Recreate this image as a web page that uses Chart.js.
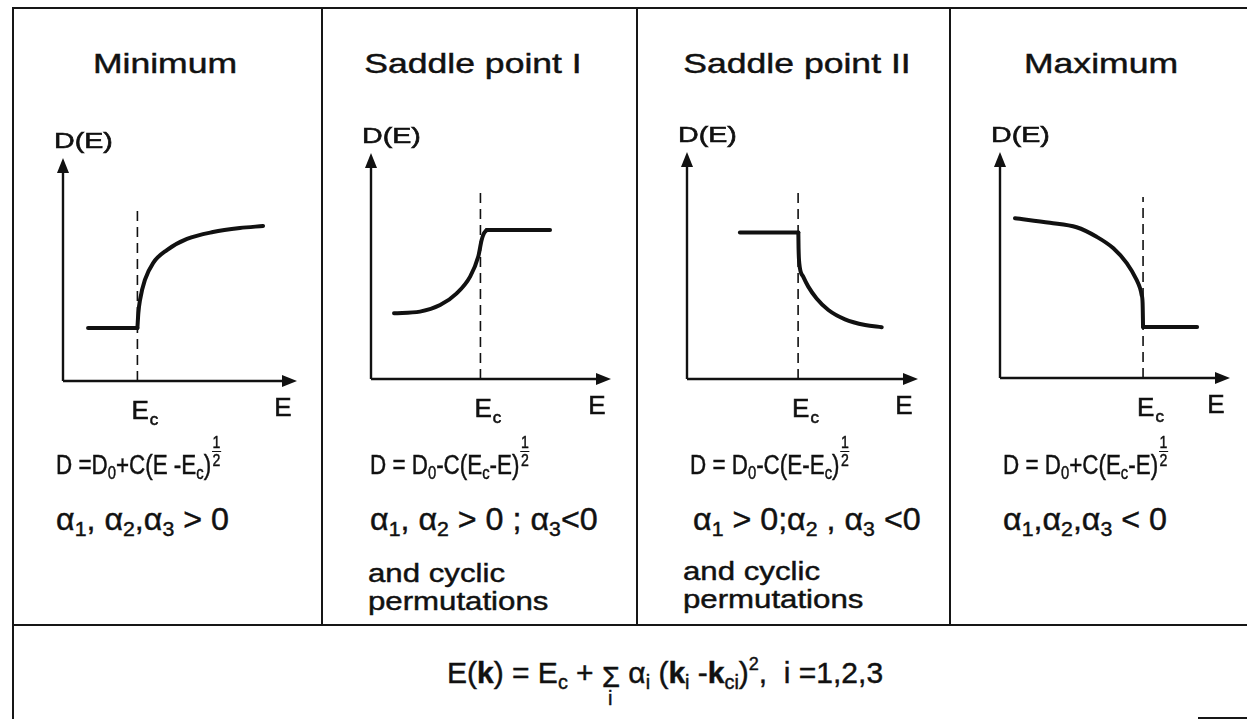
<!DOCTYPE html>
<html>
<head>
<meta charset="utf-8">
<title>Critical points and D(E)</title>
<script src="https://cdn.jsdelivr.net/npm/chart.js@4.4.1/dist/chart.umd.min.js"></script>
<style>
  html, body { margin: 0; padding: 0; background: #fff; }
  #fig { position: relative; width: 1247px; height: 719px; overflow: hidden; background: #fff; color: #111;
         font-family: "Liberation Sans", Arial, Helvetica, sans-serif; }
  .rule { position: absolute; background: #161616; }
  canvas { position: absolute; }
  .t { position: absolute; white-space: nowrap; line-height: 1; -webkit-text-stroke: 0.45px #111; }
  .title { font-size: 28px; transform: translateX(-50%) scaleX(1.27); }
  .eq { font-size: 27px; transform: scaleX(0.83); transform-origin: 0 0; }
  .al { font-size: 31px; transform: scaleX(1.04); transform-origin: 0 0; }
  .wd { font-size: 26px; transform: scaleX(1.2); transform-origin: 0 0; }
  .bot { font-size: 30px; transform: scaleX(1.0); transform-origin: 0 0; }
  .s { font-size: 0.66em; vertical-align: -0.28em; line-height: 0; }
  .frac { display: inline-block; position: relative; width: 12px; height: 0; }
  .frac .fi { position: absolute; left: 1px; bottom: 5px; width: 11px; font-size: 17px; line-height: 17px; text-align: center; }
  .frac .fi span { display: block; }
  .frac .fi span + span { border-top: 1px solid #111; }
  .sum { position: relative; display: inline-block; width: 18px; height: 0; }
  .sum .g { position: absolute; left: 0; bottom: -9px; font-size: 44px; line-height: 44px;
            transform: scale(0.66); transform-origin: 0 100%; -webkit-text-stroke: 0.7px #111; }
  .sum .u { position: absolute; left: 6px; top: 5px; font-size: 20px; line-height: 20px; }
  .sup { font-size: 0.6em; vertical-align: 0.75em; line-height: 0; }
</style>
</head>
<body>
<div id="fig">
  <!-- frame of the table -->
  <div class="rule" style="left:13px; top:7px; width:1234px; height:2px;"></div>
  <div class="rule" style="left:12px; top:7px; width:2px; height:712px;"></div>
  <div class="rule" style="left:321px; top:7px; width:2px; height:619px;"></div>
  <div class="rule" style="left:636px; top:7px; width:2px; height:619px;"></div>
  <div class="rule" style="left:949px; top:7px; width:2px; height:619px;"></div>
  <div class="rule" style="left:13px; top:624px; width:1234px; height:2px;"></div>
  <div class="rule" style="left:1198px; top:717px; width:49px; height:2px;"></div>

  <canvas id="c0" width="305" height="350" style="left:15px; top:90px;"></canvas>
  <canvas id="c1" width="311" height="350" style="left:324px; top:90px;"></canvas>
  <canvas id="c2" width="309" height="350" style="left:639px; top:90px;"></canvas>
  <canvas id="c3" width="295" height="350" style="left:952px; top:90px;"></canvas>

  <div class="t title" id="h0" style="left:165px; top:50px;"></div>
  <div class="t title" id="h1" style="left:473px; top:50px;"></div>
  <div class="t title" id="h2" style="left:797px; top:50px;"></div>
  <div class="t title" id="h3" style="left:1101px; top:50px;"></div>

  <!-- density of states near each critical point -->
  <div class="t eq" style="left:56px; top:452px;">D =D<span class="s">0</span>+C(E -E<span class="s">c</span>)<span class="frac"><span class="fi"><span>1</span><span>2</span></span></span></div>
  <div class="t eq" style="left:370px; top:452px;">D = D<span class="s">0</span>-C(E<span class="s">c</span>-E)<span class="frac"><span class="fi"><span>1</span><span>2</span></span></span></div>
  <div class="t eq" style="left:690px; top:452px;">D = D<span class="s">0</span>-C(E-E<span class="s">c</span>)<span class="frac"><span class="fi"><span>1</span><span>2</span></span></span></div>
  <div class="t eq" style="left:1003px; top:452px;">D = D<span class="s">0</span>+C(E<span class="s">c</span>-E)<span class="frac"><span class="fi"><span>1</span><span>2</span></span></span></div>

  <!-- signs of the effective-mass coefficients -->
  <div class="t al" style="left:56px; top:504px;">α<span class="s">1</span>, α<span class="s">2</span>,α<span class="s">3</span> &gt; 0</div>
  <div class="t al" style="left:370px; top:504px;">α<span class="s">1</span>, α<span class="s">2</span> &gt; 0 ; α<span class="s">3</span>&lt;0</div>
  <div class="t al" style="left:693px; top:504px;">α<span class="s">1</span> &gt; 0;α<span class="s">2</span> , α<span class="s">3</span> &lt;0</div>
  <div class="t al" style="left:1003px; top:504px;">α<span class="s">1</span>,α<span class="s">2</span>,α<span class="s">3</span> &lt; 0</div>

  <div class="t wd" style="left:368px; top:560px;">and cyclic</div>
  <div class="t wd" style="left:368px; top:588px;">permutations</div>
  <div class="t wd" style="left:683px; top:558px;">and cyclic</div>
  <div class="t wd" style="left:683px; top:586px;">permutations</div>

  <!-- band energy near a critical point -->
  <div class="t bot" style="left:447px; top:658px;">E(<b>k</b>) = E<span class="s">c</span> + <span class="sum"><span class="g">&#931;</span><span class="u">i</span></span> α<span class="s">i</span> (<b>k</b><span class="s">i</span> -<b>k</b><span class="s">ci</span>)<span class="sup">2</span>,&nbsp; i =1,2,3</div>
</div>

<script>
// Panel headings
const panelTitles = ['Minimum', 'Saddle point I', 'Saddle point II', 'Maximum'];

// Axis texts
const yAxisLabel = 'D(E)';
const xAxisLabel = 'E';
const criticalLabel = ['E', 'c'];

// Both axes run from 0 to 10 (arbitrary units)
const axisMin = 0;
const axisMax = 10;

// Critical energy E_c of each panel and the top of its dashed marker
const criticalE = [3.18, 4.56, 4.81, 6.22];
const markerTop = [7.67, 8.36, 8.24, 8.01];

// Minimum: constant below E_c, square-root rise above
const minFlatE  = [1.07, 3.18];
const minFlatD  = [2.38, 2.38];
const minCurveE = [3.18, 3.22, 3.29, 3.50, 3.85, 4.44, 5.30, 6.41, 7.56, 8.55];
const minCurveD = [2.38, 3.05, 3.63, 4.53, 5.29, 5.87, 6.37, 6.68, 6.86, 6.95];

// Saddle point I: square-root rise up to E_c, constant above
const sp1CurveE = [0.96, 2.04, 2.88, 3.57, 4.13, 4.47, 4.61, 4.71, 4.82];
const sp1CurveD = [2.91, 2.98, 3.27, 3.79, 4.53, 5.42, 6.15, 6.45, 6.59];
const sp1FlatE  = [4.82, 7.46];
const sp1FlatD  = [6.59, 6.59];

// Saddle point II: constant below E_c, square-root drop above
const sp2FlatE  = [2.29, 4.82];
const sp2FlatD  = [6.45, 6.45];
const sp2CurveE = [4.82, 4.83, 4.86, 5.03, 5.25, 5.61, 6.12, 6.84, 7.71, 8.43];
const sp2CurveD = [6.45, 5.75, 5.10, 4.51, 4.07, 3.55, 3.04, 2.63, 2.38, 2.28];

// Maximum: square-root drop up to E_c, constant above
const maxCurveE = [0.65, 2.17, 3.33, 4.20, 4.93, 5.51, 5.94, 6.09, 6.16, 6.20, 6.22];
const maxCurveD = [7.07, 6.87, 6.67, 6.25, 5.74, 5.08, 4.34, 3.97, 3.67, 3.32, 2.26];
const maxFlatE  = [6.22, 8.57];
const maxFlatD  = [2.26, 2.26];

const panelCurves = [
  { curve: [minCurveE, minCurveD], flat: [minFlatE, minFlatD] },
  { curve: [sp1CurveE, sp1CurveD], flat: [sp1FlatE, sp1FlatD] },
  { curve: [sp2CurveE, sp2CurveD], flat: [sp2FlatE, sp2FlatD] },
  { curve: [maxCurveE, maxCurveD], flat: [maxFlatE, maxFlatD] },
];

// Where each plot sits on the page: canvas box, axis origin and arrow tips
const CANVAS_TOP = 90, CANVAS_H = 350;
const frames = [
  { left: 15,  width: 305, ox: 63,   oy: 381, tx: 297,  ty: 158 },
  { left: 324, width: 311, ox: 371,  oy: 379, tx: 611,  ty: 153 },
  { left: 639, width: 309, ox: 687,  oy: 379, tx: 918,  ty: 152 },
  { left: 952, width: 295, ox: 1000, oy: 378, tx: 1230, ty: 152 },
];

const INK = '#111111';
const FONT = '"Liberation Sans", Arial, Helvetica, sans-serif';

const pts = (xs, ys) => xs.map((x, i) => ({ x, y: ys[i] }));

function heavyText(ctx, text, x, y) {
  ctx.fillText(text, x, y);
  ctx.strokeText(text, x, y);
}

// Axes with arrowheads, plus the D(E), E and E_c labels
const arrowAxes = {
  id: 'arrowAxes',
  beforeDatasetsDraw(chart, args, opts) {
    const { ctx } = chart;
    const xs = chart.scales.x, ys = chart.scales.y;
    const x0 = xs.getPixelForValue(axisMin), x1 = xs.getPixelForValue(axisMax);
    const y0 = ys.getPixelForValue(axisMin), y1 = ys.getPixelForValue(axisMax);
    const head = 15, half = 6;
    ctx.save();
    ctx.strokeStyle = INK;
    ctx.fillStyle = INK;
    ctx.lineWidth = 2.4;
    ctx.beginPath();
    ctx.moveTo(x0, y0); ctx.lineTo(x1 - head + 2, y0);
    ctx.moveTo(x0, y0); ctx.lineTo(x0, y1 + head - 2);
    ctx.stroke();
    ctx.beginPath();
    ctx.moveTo(x1, y0); ctx.lineTo(x1 - head, y0 - half); ctx.lineTo(x1 - head, y0 + half); ctx.closePath();
    ctx.fill();
    ctx.beginPath();
    ctx.moveTo(x0, y1); ctx.lineTo(x0 - half, y1 + head); ctx.lineTo(x0 + half, y1 + head); ctx.closePath();
    ctx.fill();

    ctx.textBaseline = 'alphabetic';
    ctx.lineWidth = 0.6;
    // D(E) above the vertical axis
    ctx.save();
    ctx.font = '22px ' + FONT;
    ctx.translate(x0 - 9, y1 - 10);
    ctx.scale(1.3, 1);
    ctx.textAlign = 'left';
    heavyText(ctx, yAxisLabel, 0, 0);
    ctx.restore();
    // E under the arrow of the horizontal axis
    ctx.font = '26px ' + FONT;
    ctx.textAlign = 'center';
    heavyText(ctx, xAxisLabel, x1 - 14, y0 + 35);
    // E_c under the dashed marker
    const xc = xs.getPixelForValue(opts.critical);
    ctx.textAlign = 'left';
    ctx.font = '26px ' + FONT;
    heavyText(ctx, criticalLabel[0], xc - 6, y0 + 38);
    const w = ctx.measureText(criticalLabel[0]).width;
    ctx.font = '17px ' + FONT;
    heavyText(ctx, criticalLabel[1], xc - 6 + w + 1, y0 + 44);
    ctx.restore();
  }
};

frames.forEach((f, i) => {
  document.getElementById('h' + i).textContent = panelTitles[i];
  const c = panelCurves[i];
  const line = { showLine: true, borderColor: INK, backgroundColor: INK, pointRadius: 0, fill: false,
                 borderCapStyle: 'round', borderJoinStyle: 'round' };
  new Chart(document.getElementById('c' + i), {
    type: 'scatter',
    data: {
      datasets: [
        { ...line, data: pts(c.curve[0], c.curve[1]), borderWidth: 4, cubicInterpolationMode: 'monotone' },
        { ...line, data: pts(c.flat[0], c.flat[1]), borderWidth: 4, tension: 0 },
        { ...line, data: [{ x: criticalE[i], y: axisMin }, { x: criticalE[i], y: markerTop[i] }],
          borderWidth: 1.6, borderDash: [10, 6], borderCapStyle: 'butt', tension: 0 },
      ]
    },
    options: {
      responsive: false,
      animation: false,
      events: [],
      layout: { padding: {
        left: f.ox - f.left,
        right: f.left + f.width - f.tx,
        top: f.ty - CANVAS_TOP,
        bottom: CANVAS_TOP + CANVAS_H - f.oy,
      } },
      plugins: { legend: { display: false }, tooltip: { enabled: false }, arrowAxes: { critical: criticalE[i] } },
      scales: {
        x: { type: 'linear', min: axisMin, max: axisMax, display: false },
        y: { type: 'linear', min: axisMin, max: axisMax, display: false },
      }
    },
    plugins: [arrowAxes]
  });
});
</script>
</body>
</html>
